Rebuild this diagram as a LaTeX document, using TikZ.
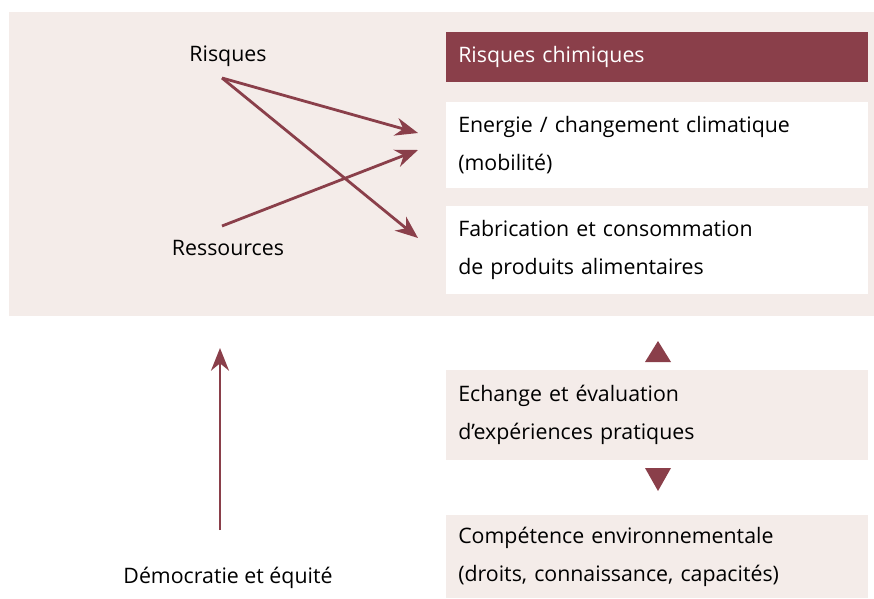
\documentclass[tikz,border=0pt]{standalone}
\usepackage{fontspec}
\setmainfont{Open Sans}
\usetikzlibrary{arrows.meta}
\definecolor{weinrot}{HTML}{8A3F4A}
\definecolor{rosa}{HTML}{F4ECE9}

\begin{document}
\begin{tikzpicture}[x=0.75pt,y=0.75pt,yscale=-1,xscale=1,
  kasten/.style={anchor=north west,inner xsep=9pt,inner ysep=0pt,minimum width=316.5pt,text width=298.5pt,align=left,font=\fontsize{16}{28.5}\selectfont},
  marke/.style={font=\fontsize{16}{18}\selectfont,inner sep=0.75pt},
  pfeil/.style={draw=weinrot,line width=2.1pt,-{Stealth[length=17pt,width=13.5pt]}}]
%set diagram to 874 x 599
\useasboundingbox (0,0) rectangle (874,599);

%Background panel
\fill[rosa] (9,12) rectangle (874,316);

%Boxes
\node[kasten,fill=weinrot,text=white,minimum height=37.5pt] (chemie) at (446,32) {Risques chimiques};
\node[kasten,fill=white,minimum height=64.5pt] (energie) at (446,102) {Energie / changement climatique\\(mobilité)};
\node[kasten,fill=white,minimum height=66pt] (nahrung) at (446,206) {Fabrication et consommation\\de produits alimentaires};
\node[kasten,fill=rosa,minimum height=67.5pt] (austausch) at (446,370) {Echange et évaluation\\d’expériences pratiques};
\node[kasten,fill=rosa,minimum height=62.25pt] (kompetenz) at (446,515) {Compétence environnementale\\(droits, connaissance, capacités)};

% Text Node
\node[marke] (risques) at (228,56) {Risques};
% Text Node
\node[marke] (ressources) at (228,248) {Ressources};
% Text Node
\node[marke] (demokratie) at (228,578) {Démocratie et équité};

%Arrow ends
\coordinate (r-aus) at (222,78);
\coordinate (s-aus) at (222,226);
\coordinate (e-ein1) at (418,133);
\coordinate (e-ein2) at (418,150);
\coordinate (n-ein) at (418,238);
\coordinate (d-aus) at (220,530);
\coordinate (d-ein) at (220,348);

%Arrows
\draw[pfeil] (r-aus) -- (e-ein1);
\draw[pfeil] (r-aus) -- (n-ein);
\draw[pfeil] (s-aus) -- (e-ein2);
\draw[pfeil] (d-aus) -- (d-ein);

%Triangles
\fill[weinrot] (645,362) -- (671,362) -- (658,341) -- cycle;
\fill[weinrot] (645,468) -- (671,468) -- (658,491) -- cycle;

\end{tikzpicture}
\end{document}
